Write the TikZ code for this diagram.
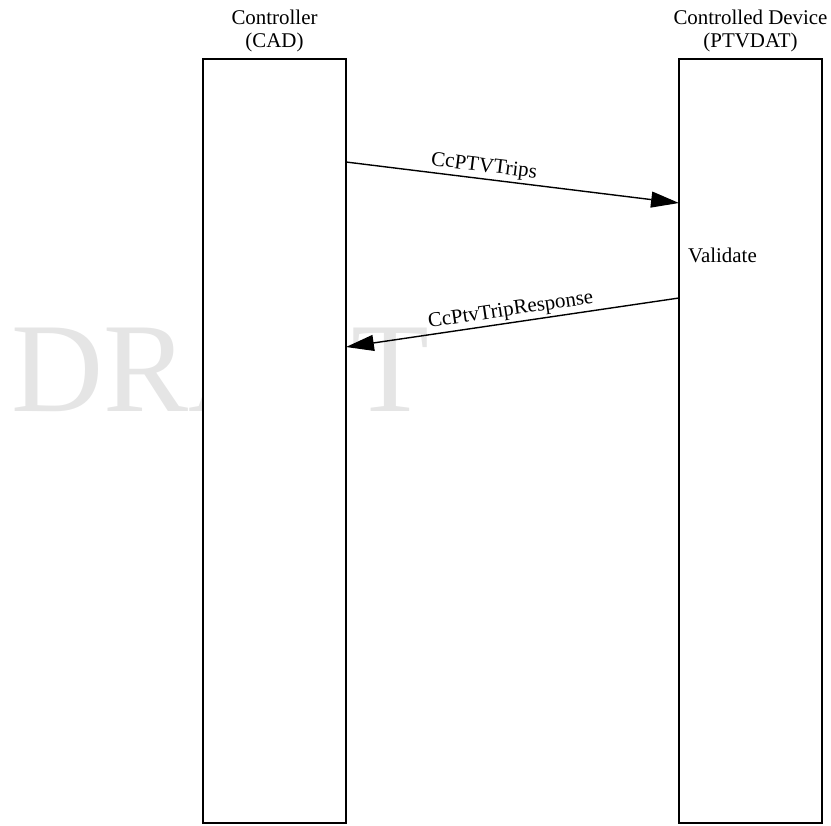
\documentclass[tikz,border=0pt]{standalone}
\usepackage{fontspec}
\setmainfont{Liberation Serif}
\usepackage{tikz}
\usetikzlibrary{arrows.meta, positioning}

\tikzset{
    lifeline/.style={draw, fill=white, line width=1.5pt, minimum width=143bp, minimum height=764bp, inner sep=0pt},
    msg/.style={line width=1.4pt, -{Triangle[length=28pt, width=16pt]}},
    lbl/.style={font=\fontsize{21}{23}\selectfont, align=center}
}

\begin{document}
\begin{tikzpicture}[x=1bp, y=-1bp]
    \useasboundingbox (0,0) rectangle (831,826);

    % Watermark
    \node[anchor=base west, inner sep=0pt, text=black!10, font=\fontsize{128}{128}\selectfont] (draft) at (11,411) {DRAFT};

    % Lifelines
    \node[lifeline] (cad) at (274.5,441) {};
    \node[lifeline] (ptv) at (750.5,441) {};

    % Headers
    \node[lbl, above=3bp of cad] (cadname) {Controller\\(CAD)};
    \node[lbl, above=3bp of ptv] (ptvname) {Controlled Device\\(PTVDAT)};

    % Message end points
    \coordinate (tripsOut) at (346,162);
    \coordinate (tripsIn) at (679,203);
    \coordinate (respOut) at (679,298);
    \coordinate (respIn) at (346,347);

    % Messages
    \draw[msg] (tripsOut) -- node[lbl, pos=0.41, sloped, above, inner sep=2pt] (tripslbl) {CcPTVTrips} (tripsIn);
    \draw[msg] (respOut) -- node[lbl, pos=0.5, sloped, above, inner sep=2pt] (resplbl) {CcPtvTripResponse} (respIn);

    % Processing step
    \node[lbl, anchor=base west, inner sep=0pt] (validate) at (688,262) {Validate};
\end{tikzpicture}
\end{document}
